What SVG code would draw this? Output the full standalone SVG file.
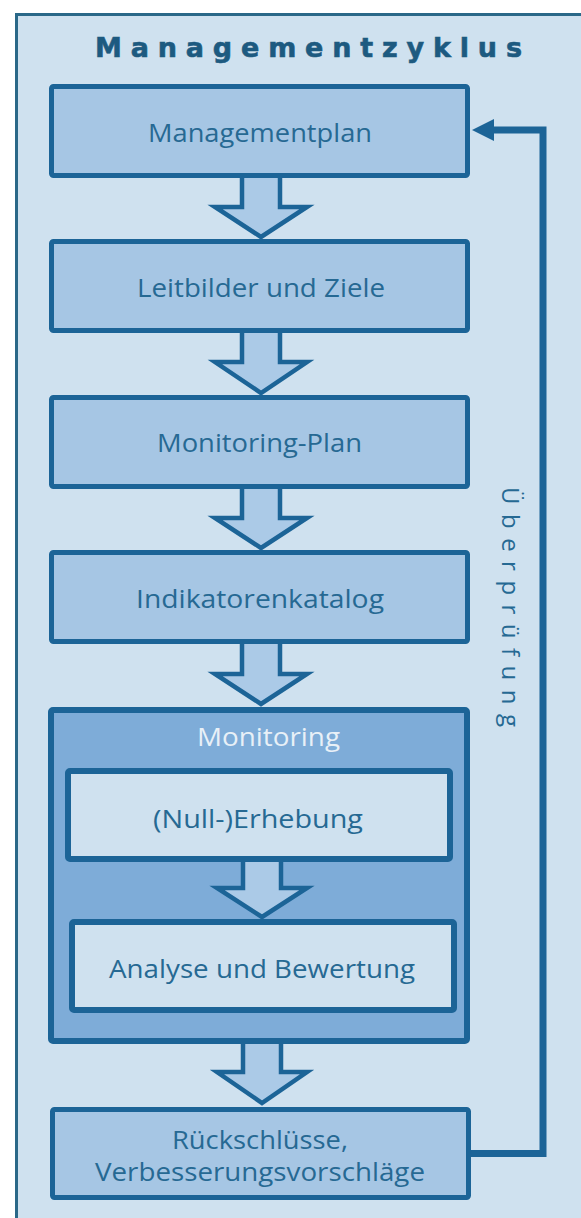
<svg xmlns="http://www.w3.org/2000/svg" width="581" height="1218" viewBox="0 0 581 1218">
<style>
.frame{fill:#cfe1ef;stroke:#2a6888;stroke-width:3}
.box{fill:#a6c6e4;stroke:#1c6497;stroke-width:5}
.mon{fill:#7eacd8;stroke:#1c6497;stroke-width:6}
.inner{fill:#cfe1ef;stroke:#1c6497;stroke-width:6}
.arr{fill:#abcae7;stroke:#1c6497;stroke-width:4.5;stroke-linejoin:miter}
.lbl{font-family:"Open Sans","Noto Sans",sans-serif;font-size:25px;fill:#266993;text-anchor:start}
.title{font-family:"DejaVu Sans",sans-serif;font-weight:bold;font-size:27px;fill:#1d5a80;stroke:#1d5a80;stroke-width:0.6}
.fb{fill:none;stroke:#1c6497;stroke-width:7;stroke-linejoin:miter}
</style>
<rect x="0" y="0" width="581" height="1218" fill="#ffffff"/>
<rect class="frame" x="16.5" y="14.5" width="620" height="1260"/>
<text class="title" x="95" y="57" textLength="427" lengthAdjust="spacing">Managementzyklus</text>

<g id="connectors">
  <path class="arr" d="M242,177 L242,207 L215,207 L261,237 L307,207 L280,207 L280,177"/>
  <path class="arr" d="M242,332 L242,362 L215,362 L261,393 L307,362 L280,362 L280,332"/>
  <path class="arr" d="M242,488 L242,518 L215,518 L261,548 L307,518 L280,518 L280,488"/>
  <path class="arr" d="M242,643 L242,674 L215,674 L261,704 L307,674 L280,674 L280,643"/>
  <path class="arr" d="M243,1043 L243,1072 L217,1072 L262,1103 L307,1072 L281,1072 L281,1043"/>
  <path class="fb" d="M470,1153.5 L543,1153.5 L543,130 L490,130"/>
  <polygon points="472,130 494,119 494,141" fill="#1c6497"/>
</g>

<g id="n1">
  <rect class="box" x="51.5" y="86.5" width="416" height="89" rx="2"/>
  <text class="lbl" x="148" y="142" textLength="224" lengthAdjust="spacingAndGlyphs">Managementplan</text>
</g>
<g id="n2">
  <rect class="box" x="51.5" y="241.5" width="416" height="89" rx="2"/>
  <text class="lbl" x="137" y="297" textLength="248" lengthAdjust="spacingAndGlyphs">Leitbilder und Ziele</text>
</g>
<g id="n3">
  <rect class="box" x="51.5" y="397.5" width="416" height="89" rx="2"/>
  <text class="lbl" x="157" y="452" textLength="205" lengthAdjust="spacingAndGlyphs">Monitoring-Plan</text>
</g>
<g id="n4">
  <rect class="box" x="51.5" y="552.5" width="416" height="89" rx="2"/>
  <text class="lbl" x="136" y="608" textLength="248" lengthAdjust="spacingAndGlyphs">Indikatorenkatalog</text>
</g>
<g id="n5">
  <rect class="mon" x="51" y="710" width="416" height="331" rx="2"/>
  <text class="lbl" x="197" y="746" textLength="143" lengthAdjust="spacingAndGlyphs" style="fill:#e8f0f7">Monitoring</text>
</g>
<g id="n5a">
  <rect class="inner" x="68" y="771" width="382" height="88" rx="2"/>
  <text class="lbl" x="153" y="828" textLength="210" lengthAdjust="spacingAndGlyphs">(Null-)Erhebung</text>
</g>
<path class="arr" d="M243,862 L243,888 L217,888 L262,917 L307,888 L281,888 L281,862"/>
<g id="n5b">
  <rect class="inner" x="72" y="922" width="382" height="88" rx="2"/>
  <text class="lbl" x="109" y="978" textLength="306" lengthAdjust="spacingAndGlyphs">Analyse und Bewertung</text>
</g>
<g id="n6">
  <rect class="box" x="52.5" y="1109.5" width="416" height="88" rx="2"/>
  <text class="lbl" x="172" y="1149" textLength="176" lengthAdjust="spacingAndGlyphs">Rückschlüsse,</text>
  <text class="lbl" x="95" y="1181" textLength="330" lengthAdjust="spacingAndGlyphs">Verbesserungsvorschläge</text>
</g>
<text class="lbl" transform="translate(502,487) rotate(90)" x="0" y="0" textLength="240" lengthAdjust="spacing" style="font-size:24px">Überprüfung</text>
</svg>
